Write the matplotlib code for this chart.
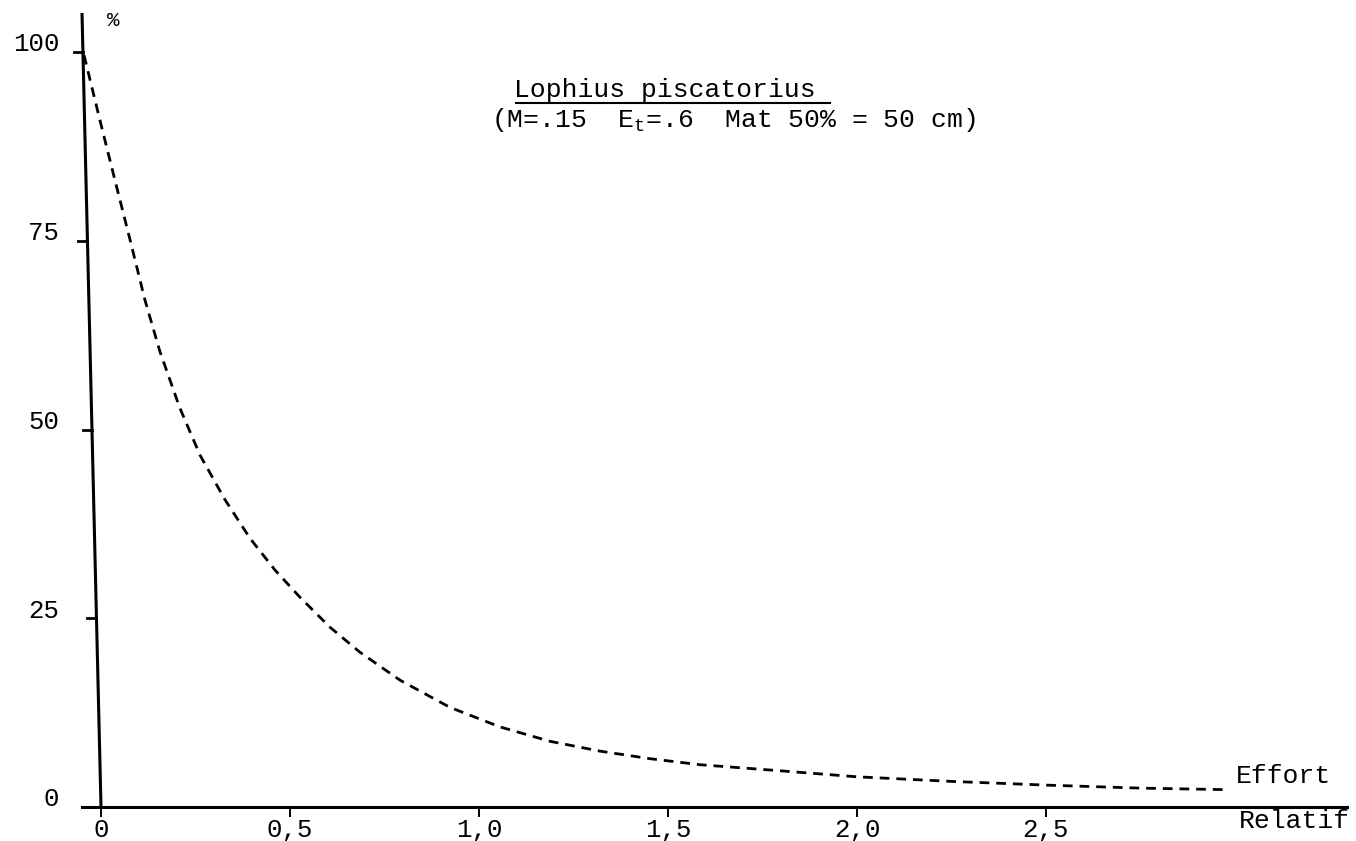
import matplotlib
matplotlib.use("Agg")
import matplotlib.pyplot as plt
from matplotlib.lines import Line2D

# ---- data ----
effort = [-0.045, -0.003, 0.037, 0.077, 0.116, 0.156, 0.209, 0.262, 0.328,
          0.394, 0.460, 0.526, 0.606, 0.685, 0.791, 0.923, 1.056, 1.188,
          1.320, 1.452, 1.585, 1.796, 2.000, 2.246, 2.500, 2.749, 2.974]
percent = [99.6, 91.0, 83.0, 75.1, 67.2, 60.3, 52.8, 46.6, 40.7,
           35.6, 31.4, 27.8, 23.8, 20.5, 16.8, 13.2, 10.6, 8.7,
           7.4, 6.4, 5.6, 4.8, 4.0, 3.4, 2.9, 2.5, 2.3]
x_ticks = [0, 0.5, 1.0, 1.5, 2.0, 2.5]
x_tick_labels = ["0", "0,5", "1,0", "1,5", "2,0", "2,5"]
y_ticks = [0, 25, 50, 75, 100]
y_tick_labels = ["0", "25", "50", "75", "100"]

FONT = "Liberation Mono"
plt.rcParams["font.family"] = [FONT, "DejaVu Sans"]
plt.rcParams["mathtext.fontset"] = "custom"
plt.rcParams["mathtext.rm"] = FONT
plt.rcParams["mathtext.it"] = FONT

W, H = 1356, 841
fig = plt.figure(figsize=(W / 100, H / 100), dpi=100)

# pixel geometry of the plot frame
px0, px_right = 101, 1347   # x=0 pixel, right end of x axis
py0, py_top = 807, 13       # y=0 pixel, top of y axis
ppx = 378.0                 # pixels per unit effort
ppy = 7.55                  # pixels per percent
left_px = 82

ax = fig.add_axes([left_px / W, 1 - py0 / H, (px_right - left_px) / W, (py0 - py_top) / H])
xmin = (left_px - px0) / ppx
xmax = (px_right - px0) / ppx
ymax = (py0 - py_top) / ppy
ax.set_xlim(xmin, xmax)
ax.set_ylim(0, ymax)

for s in ["top", "right", "left"]:
    ax.spines[s].set_visible(False)
ax.spines["bottom"].set_linewidth(2.2)
ax.set_yticks([])
ax.set_xticks(x_ticks)
ax.set_xticklabels(x_tick_labels, fontsize=18.5)
ax.tick_params(axis="x", direction="out", length=7, width=1.4, pad=1)

# slanted y axis (as in the scan)
def axis_x(v):
    return xmin * v / ymax

ax.plot([xmin, 0], [ymax, 0], color="black", lw=2.2, clip_on=False, solid_capstyle="butt")
tick_len = 9 / ppx
for v, lab in zip(y_ticks, y_tick_labels):
    xa = axis_x(v)
    ax.plot([xa - tick_len, xa], [v, v], color="black", lw=2.0, clip_on=False)
    ax.text(-0.018, v + 1.0, lab, transform=ax.get_yaxis_transform(),
            ha="right", va="center", fontsize=18.5)

# curve
ax.plot(effort, percent, color="black", lw=2.0, ls=(0, (3.5, 2.5)), clip_on=False)

# texts
def fx(p):
    return p / W

def fy(p):
    return 1 - p / H

fig.text(fx(113), fy(21), "%", fontsize=15, ha="center", va="center")
fig.text(fx(514), fy(97), "Lophius piscatorius", fontsize=19, ha="left", va="baseline")
fig.add_artist(Line2D([fx(516), fx(830)], [fy(103), fy(103)], color="black", lw=1.5))
fig.text(fx(491), fy(127), r"(M=.15  E$_{\mathrm{t}}$=.6  Mat 50% = 50 cm)",
         fontsize=19, ha="left", va="baseline")
fig.text(fx(1236), fy(783), "Effort", fontsize=19, ha="left", va="baseline")
fig.text(fx(1239), fy(828), "Relatif", fontsize=19, ha="left", va="baseline")

fig.savefig("out.png", dpi=100, facecolor="white")
